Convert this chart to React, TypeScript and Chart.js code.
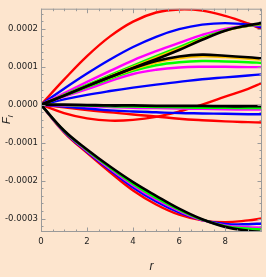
import { useEffect, useRef } from 'react';
import { Chart, registerables } from 'chart.js';

Chart.register(...registerables);

// radial coordinate samples
const R = [0, 1, 2, 3, 4, 5, 6, 7, 8, 9, 9.6];

// upper group
const redTop = [0, 0.000066, 0.000128, 0.00018, 0.000219, 0.000243, 0.000251, 0.000248, 0.000234, 0.000214, 0.000199];
const blueTop = [0, 0.000042, 0.000082, 0.000119, 0.000152, 0.000179, 0.000199, 0.000211, 0.000215, 0.000211, 0.000204];
const magentaTop = [0, 0.00003, 0.00006, 0.000089, 0.000117, 0.000141, 0.000163, 0.000184, 0.0002, 0.000208, 0.00021];
const greenTop = [0, 0.000026, 0.000052, 0.000078, 0.000103, 0.000128, 0.000152, 0.000176, 0.000196, 0.000208, 0.000212];
const yellowTop = [0, 0.000025, 0.00005, 0.000075, 0.0001, 0.000124, 0.000148, 0.000173, 0.000195, 0.000208, 0.000213];
const blackTop = [0, 0.000024, 0.000049, 0.000073, 0.000097, 0.00012, 0.000144, 0.000171, 0.000195, 0.000209, 0.000215];

// plateau group
const blackPlat = [0, 0.000024, 0.000049, 0.000073, 0.000096, 0.000115, 0.000127, 0.000132, 0.000129, 0.000125, 0.000122];
const yellowPlat = [0, 0.000024, 0.000048, 0.000071, 0.000093, 0.000111, 0.000122, 0.000127, 0.000125, 0.000121, 0.000118];
const greenPlat = [0, 0.000023, 0.000046, 0.000068, 0.000089, 0.000104, 0.000112, 0.000115, 0.000114, 0.000112, 0.00011];
const magentaPlat = [0, 0.000021, 0.000041, 0.000062, 0.000081, 0.000092, 0.000098, 0.0001, 0.0001, 0.000099, 0.000099];
const blueMid = [0, 0.000014, 0.000026, 0.000036, 0.000045, 0.000053, 0.00006, 0.000067, 0.000072, 0.000077, 0.00008];

// near-zero group
const redDip = [0, -0.000022, -0.000036, -0.000042, -0.00004, -0.000032, -0.000018, 0.0, 0.000021, 0.000042, 0.000057];
const redFlat = [0, -0.000007, -0.000014, -0.00002, -0.000026, -0.000031, -0.000037, -0.000041, -0.000044, -0.000046, -0.000047];
const blackZero = [0, 0, -0.000001, -0.000002, -0.000002, -0.000003, -0.000003, -0.000003, -0.000004, -0.000004, -0.000004];
const greenZero = [0, -0.000001, -0.000002, -0.000004, -0.000005, -0.000006, -0.000007, -0.000008, -0.000008, -0.000009, -0.000009];
const magentaZero = [0, -0.000002, -0.000004, -0.000006, -0.000008, -0.000009, -0.00001, -0.000011, -0.000012, -0.000013, -0.000013];
const blueZero = [0, -0.000005, -0.00001, -0.000015, -0.000018, -0.00002, -0.000022, -0.000023, -0.000024, -0.000025, -0.000025];

// lower group
const blackLow = [0, -0.000068, -0.000118, -0.000163, -0.000204, -0.00024, -0.000274, -0.000302, -0.000322, -0.000332, -0.000335];
const greenLow = [0, -0.000069, -0.00012, -0.000166, -0.000209, -0.000246, -0.000277, -0.000303, -0.00032, -0.000327, -0.000329];
const magentaLow = [0, -0.00007, -0.000122, -0.000169, -0.000213, -0.00025, -0.00028, -0.000304, -0.000318, -0.000323, -0.000324];
const blueLow = [0, -0.000071, -0.000124, -0.000172, -0.000218, -0.000255, -0.000284, -0.000304, -0.000314, -0.000315, -0.000313];
const redLow = [0, -0.000073, -0.000127, -0.000178, -0.000226, -0.000263, -0.00029, -0.000305, -0.00031, -0.000305, -0.0003];

const X_MIN = 0;
const X_MAX = 9.6;
const Y_MIN = -0.0003355;
const Y_MAX = 0.000253;
const X_MAJOR = 2;
const X_MINOR = 0.5;
const Y_MAJOR = 0.0001;
const Y_MINOR = 0.00002;

const RED = '#ff0000';
const BLUE = '#0000ff';
const MAGENTA = '#ff00ff';
const GREEN = '#00ff00';
const YELLOW = '#ffc400';
const BLACK = '#000000';

const BG = '#fde5ce';
const FRAME = '#9a9a9a';
const TEXT = '#222222';
const TICK_FONT = '"Liberation Sans Narrow", "DejaVu Sans Condensed", "Arial Narrow", "Liberation Sans", sans-serif';

// first listed is drawn on top
const SERIES: { values: number[]; color: string; width: number }[] = [
  { values: blackZero, color: BLACK, width: 2.8 },
  { values: blackTop, color: BLACK, width: 2.6 },
  { values: blackPlat, color: BLACK, width: 2.6 },
  { values: blackLow, color: BLACK, width: 2.6 },
  { values: yellowTop, color: YELLOW, width: 2.2 },
  { values: yellowPlat, color: YELLOW, width: 2.2 },
  { values: greenZero, color: GREEN, width: 2.4 },
  { values: greenTop, color: GREEN, width: 2.4 },
  { values: greenPlat, color: GREEN, width: 2.4 },
  { values: greenLow, color: GREEN, width: 2.4 },
  { values: magentaZero, color: MAGENTA, width: 2.4 },
  { values: magentaTop, color: MAGENTA, width: 2.4 },
  { values: magentaPlat, color: MAGENTA, width: 2.4 },
  { values: magentaLow, color: MAGENTA, width: 2.4 },
  { values: blueZero, color: BLUE, width: 2.4 },
  { values: blueTop, color: BLUE, width: 2.4 },
  { values: blueMid, color: BLUE, width: 2.4 },
  { values: blueLow, color: BLUE, width: 2.4 },
  { values: redTop, color: RED, width: 2.4 },
  { values: redDip, color: RED, width: 2.4 },
  { values: redFlat, color: RED, width: 2.4 },
  { values: redLow, color: RED, width: 2.4 },
];

const framePlugin = {
  id: 'frameTicks',
  afterDatasetsDraw(chart: any) {
    const { ctx, chartArea: a, scales } = chart;
    const x = scales.x;
    const y = scales.y;
    ctx.save();
    ctx.strokeStyle = FRAME;
    ctx.lineWidth = 1;
    ctx.strokeRect(a.left + 0.5, a.top + 0.5, a.right - a.left - 1, a.bottom - a.top - 1);
    ctx.beginPath();
    const perX = Math.round(X_MAJOR / X_MINOR);
    const kx0 = Math.ceil(x.min / X_MINOR - 1e-9);
    const kx1 = Math.floor(x.max / X_MINOR + 1e-9);
    for (let k = kx0; k <= kx1; k++) {
      const px = Math.round(x.getPixelForValue(k * X_MINOR)) + 0.5;
      const len = k % perX === 0 ? 4.5 : 2.5;
      ctx.moveTo(px, a.bottom);
      ctx.lineTo(px, a.bottom - len);
      ctx.moveTo(px, a.top);
      ctx.lineTo(px, a.top + len);
    }
    const perY = Math.round(Y_MAJOR / Y_MINOR);
    const ky0 = Math.ceil(y.min / Y_MINOR - 1e-9);
    const ky1 = Math.floor(y.max / Y_MINOR + 1e-9);
    for (let k = ky0; k <= ky1; k++) {
      const py = Math.round(y.getPixelForValue(k * Y_MINOR)) + 0.5;
      const len = k % perY === 0 ? 4.5 : 2.5;
      ctx.moveTo(a.left, py);
      ctx.lineTo(a.left + len, py);
      ctx.moveTo(a.right, py);
      ctx.lineTo(a.right - len, py);
    }
    ctx.stroke();

    // axis titles
    ctx.fillStyle = TEXT;
    ctx.font = 'italic 12px "Liberation Sans", sans-serif';
    ctx.textAlign = 'center';
    ctx.textBaseline = 'alphabetic';
    ctx.fillText('r', (a.left + a.right) / 2, 270);

    ctx.translate(10, 124);
    ctx.rotate(-Math.PI / 2);
    ctx.textAlign = 'left';
    ctx.font = 'italic 11px "Liberation Sans", sans-serif';
    ctx.fillText('F', 0, 0);
    const w = ctx.measureText('F').width;
    ctx.font = 'italic 8px "Liberation Sans", sans-serif';
    ctx.fillText('l', w, 2.5);
    ctx.restore();
  },
};

export default function App() {
  const ref = useRef<HTMLCanvasElement | null>(null);
  useEffect(() => {
    if (!ref.current) return;
    const chart = new Chart(ref.current, {
      type: 'line',
      data: {
        datasets: SERIES.map((s) => ({
          data: R.map((r, i) => ({ x: r, y: s.values[i] })),
          borderColor: s.color,
          borderWidth: s.width,
          pointRadius: 0,
          fill: false,
          tension: 0.4,
          borderCapStyle: 'round' as const,
          borderJoinStyle: 'round' as const,
        })),
      },
      options: {
        animation: false,
        responsive: false,
        events: [],
        layout: { padding: { left: 0, top: 2, right: 4, bottom: 0 } },
        plugins: { legend: { display: false }, tooltip: { enabled: false } },
        scales: {
          x: {
            type: 'linear',
            min: X_MIN,
            max: X_MAX,
            grid: { display: false, drawTicks: false },
            border: { display: false },
            afterFit: (s: any) => { s.height = 45; },
            ticks: {
              stepSize: X_MAJOR,
              includeBounds: false,
              padding: 4,
              color: TEXT,
              font: { family: TICK_FONT, size: 9.5 },
              maxRotation: 0,
              callback: (v: any) => String(v),
            },
          },
          y: {
            type: 'linear',
            min: Y_MIN,
            max: Y_MAX,
            grid: { display: false, drawTicks: false },
            border: { display: false },
            afterFit: (s: any) => { s.width = 41; },
            ticks: {
              stepSize: Y_MAJOR,
              includeBounds: false,
              padding: 3,
              color: TEXT,
              font: { family: TICK_FONT, size: 9.5 },
              callback: (v: any) => Number(v).toFixed(4).replace('-0.0000', '0.0000'),
            },
          },
        },
      },
      plugins: [framePlugin],
    });
    return () => chart.destroy();
  }, []);
  return (
    <div style={{ position: 'fixed', left: 0, top: 0, width: 266, height: 277, background: BG }}>
      <canvas ref={ref} width={266} height={277} style={{ display: 'block' }} />
    </div>
  );
}
